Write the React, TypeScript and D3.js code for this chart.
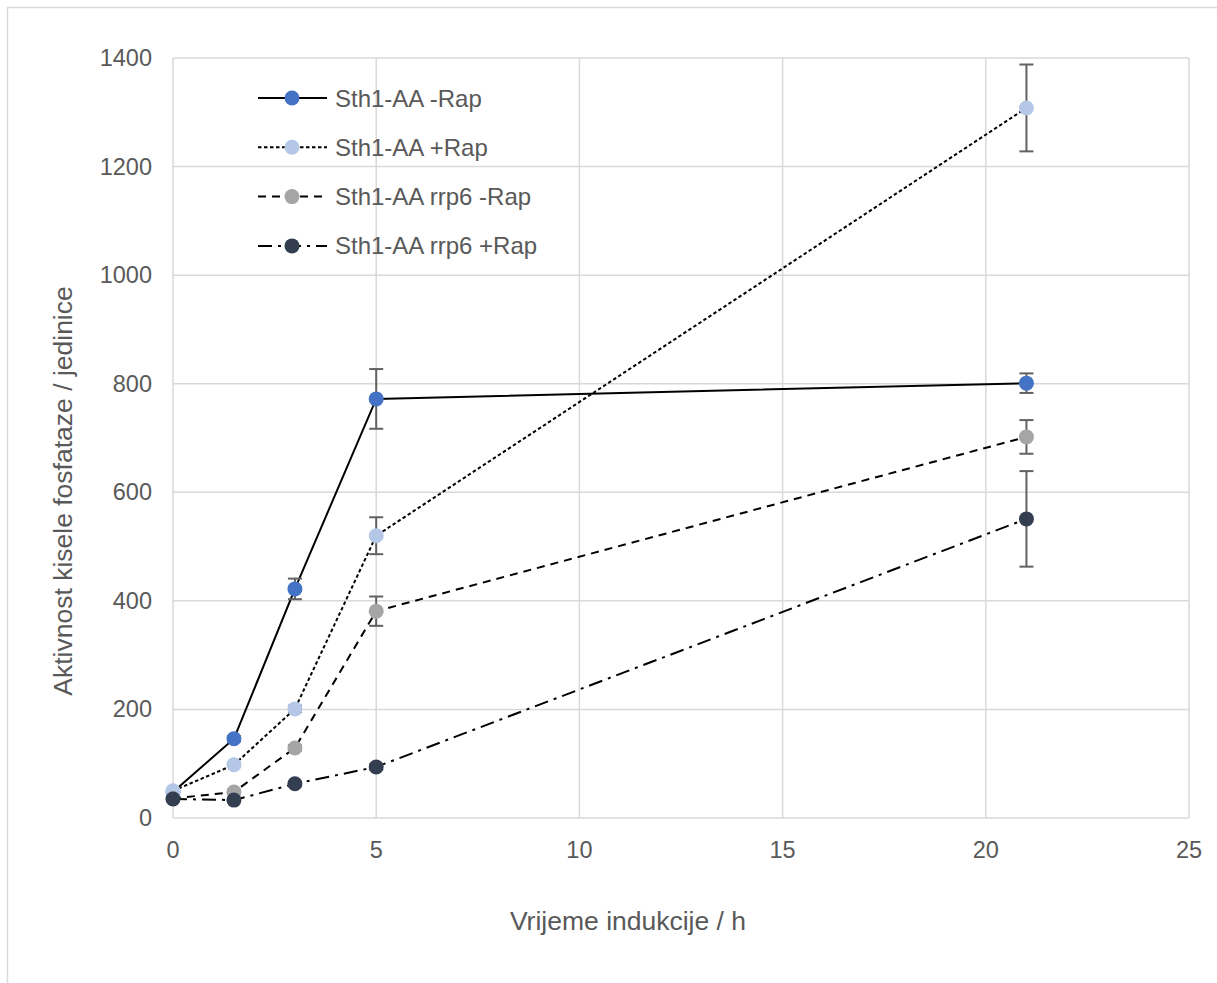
import { useEffect, useRef } from 'react'
import * as d3 from 'd3'

// time points (h)
const hours = [0, 1.5, 3, 5, 21]

const seriesNames = ['Sth1-AA -Rap', 'Sth1-AA +Rap', 'Sth1-AA rrp6 -Rap', 'Sth1-AA rrp6 +Rap']
const seriesColors = ['#4472C4', '#B4C7E7', '#A5A5A5', '#333F50']
const seriesDash = ['none', '3.5,2.5', '8,6', '14,6,3,6']

const sth1Minus = [48, 146, 422, 772, 801]
const sth1Plus = [50, 98, 201, 520, 1308]
const rrp6Minus = [36, 48, 129, 381, 702]
const rrp6Plus = [35, 33, 63, 94, 551]

const sth1MinusErr = [3, 5, 19, 55, 18]
const sth1PlusErr = [3, 4, 6, 34, 80]
const rrp6MinusErr = [2, 4, 5, 27, 31]
const rrp6PlusErr = [2, 2, 4, 5, 88]

const xTicks = [0, 5, 10, 15, 20, 25]
const yTicks = [0, 200, 400, 600, 800, 1000, 1200, 1400]

const FONT = '"Liberation Sans", Arial, sans-serif'

export default function App() {
  const svgRef = useRef<SVGSVGElement | null>(null)

  useEffect(() => {
    if (!svgRef.current) return
    const svg = d3.select(svgRef.current)
    svg.selectAll('*').remove()

    const left = 173, right = 1189, top = 58, bottom = 818

    const x = d3.scaleLinear().domain([0, 25]).range([left, right])
    const y = d3.scaleLinear().domain([0, 1400]).range([bottom, top])

    // chart border (runs off the right and bottom of the picture)
    svg.append('rect').attr('x', 7.5).attr('y', 7.5).attr('width', 1242).attr('height', 1000)
      .attr('fill', 'white').attr('stroke', '#D9D9D9').attr('stroke-width', 1.5)

    // gridlines
    svg.append('g').selectAll('line').data(yTicks).join('line')
      .attr('x1', left).attr('x2', right)
      .attr('y1', d => y(d)).attr('y2', d => y(d))
      .attr('stroke', '#D9D9D9').attr('stroke-width', 1.5)
    svg.append('g').selectAll('line').data(xTicks).join('line')
      .attr('x1', d => x(d)).attr('x2', d => x(d))
      .attr('y1', top).attr('y2', bottom)
      .attr('stroke', '#D9D9D9').attr('stroke-width', 1.5)

    // tick labels
    svg.append('g').selectAll('text').data(yTicks).join('text')
      .attr('x', left - 21).attr('y', d => y(d) + 8)
      .attr('text-anchor', 'end').attr('font-size', 23.5).attr('font-family', FONT)
      .attr('fill', '#595959').text(d => d)
    svg.append('g').selectAll('text').data(xTicks).join('text')
      .attr('x', d => x(d)).attr('y', bottom + 40)
      .attr('text-anchor', 'middle').attr('font-size', 23.5).attr('font-family', FONT)
      .attr('fill', '#595959').text(d => d)

    // axis titles
    svg.append('text').attr('x', 628).attr('y', 930)
      .attr('text-anchor', 'middle').attr('font-size', 26.5).attr('font-family', FONT)
      .attr('fill', '#595959').text('Vrijeme indukcije / h')
    svg.append('text').attr('transform', 'translate(72, 491) rotate(-90)')
      .attr('text-anchor', 'middle').attr('font-size', 26.5).attr('font-family', FONT)
      .attr('fill', '#595959').text('Aktivnost kisele fosfataze / jedinice')

    const values = [sth1Minus, sth1Plus, rrp6Minus, rrp6Plus]
    const errors = [sth1MinusErr, sth1PlusErr, rrp6MinusErr, rrp6PlusErr]

    values.forEach((vals, s) => {
      const g = svg.append('g')
      const idx = hours.map((_, i) => i)
      const path = d3.line<number>().x(i => x(hours[i])).y(i => y(vals[i]))
      g.append('path').datum(idx).attr('d', path)
        .attr('fill', 'none').attr('stroke', 'black').attr('stroke-width', 2)
        .attr('stroke-dasharray', seriesDash[s])
      // error bars
      idx.forEach(i => {
        const e = errors[s][i]
        const cx = x(hours[i])
        const y1 = y(vals[i] + e), y2 = y(vals[i] - e)
        g.append('line').attr('x1', cx).attr('x2', cx).attr('y1', y1).attr('y2', y2)
          .attr('stroke', '#616161').attr('stroke-width', 2)
        ;[y1, y2].forEach(yy => {
          g.append('line').attr('x1', cx - 7).attr('x2', cx + 7).attr('y1', yy).attr('y2', yy)
            .attr('stroke', '#616161').attr('stroke-width', 2)
        })
      })
      g.selectAll('circle').data(idx).join('circle')
        .attr('cx', i => x(hours[i])).attr('cy', i => y(vals[i])).attr('r', 7.5)
        .attr('fill', seriesColors[s])
    })

    // legend
    const lg = svg.append('g').attr('transform', 'translate(258, 98)')
    seriesNames.forEach((name, s) => {
      const row = lg.append('g').attr('transform', `translate(0, ${s * 49.3})`)
      row.append('line').attr('x1', 0).attr('x2', 69).attr('y1', 0).attr('y2', 0)
        .attr('stroke', 'black').attr('stroke-width', 2).attr('stroke-dasharray', seriesDash[s])
      row.append('circle').attr('cx', 34).attr('cy', 0).attr('r', 7.5).attr('fill', seriesColors[s])
      row.append('text').attr('x', 77).attr('y', 8.5).attr('font-size', 24).attr('font-family', FONT)
        .attr('fill', '#595959').text(name)
    })
  }, [])

  return (
    <svg ref={svgRef} width={1217} height={983}
      style={{ position: 'absolute', left: 0, top: 0, background: 'white' }} />
  )
}
